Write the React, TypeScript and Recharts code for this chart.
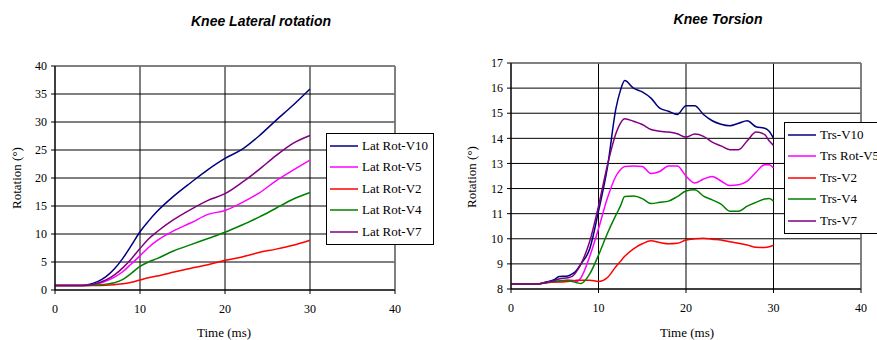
import React from "react";
import {
  LineChart, Line, XAxis, YAxis, CartesianGrid, ReferenceLine, Legend,
} from "recharts";

// ---- Knee Lateral rotation ----
const latTime = [0, 3, 4, 5, 6, 7, 8, 9, 10, 11, 12, 14, 16, 18, 20, 22, 24, 26, 28, 30];
const latV10 = [0.8, 0.8, 1.0, 1.5, 2.4, 3.8, 5.7, 8.0, 10.4, 12.3, 14.0, 16.8, 19.2, 21.5, 23.5, 25.1, 27.5, 30.3, 33.0, 35.9];
const latV5 = [0.8, 0.8, 0.85, 1.1, 1.6, 2.3, 3.3, 4.7, 6.1, 7.6, 8.8, 10.6, 12.0, 13.5, 14.2, 15.6, 17.3, 19.5, 21.4, 23.2];
const latV2 = [0.8, 0.8, 0.8, 0.8, 0.85, 0.95, 1.1, 1.4, 1.8, 2.2, 2.5, 3.2, 3.9, 4.5, 5.3, 5.9, 6.7, 7.3, 8.0, 8.9];
const latV4 = [0.8, 0.8, 0.8, 0.9, 1.05, 1.3, 1.9, 3.0, 4.2, 5.0, 5.6, 7.0, 8.1, 9.2, 10.3, 11.6, 13.0, 14.6, 16.2, 17.4];
const latV7 = [0.8, 0.8, 0.9, 1.2, 1.8, 2.7, 4.0, 5.6, 7.4, 9.1, 10.4, 12.6, 14.4, 16.0, 17.2, 19.2, 21.5, 24.0, 26.2, 27.6];

// ---- Knee Torsion ----
const trsTime = [0, 3, 4, 5, 5.5, 6.5, 7, 7.5, 8, 9, 10, 11, 12, 12.5, 13, 14, 15, 16, 17, 18, 19, 20, 21, 22, 23, 24, 25, 26, 27, 28, 29, 29.5, 30];
const trsV10 = [8.2, 8.2, 8.28, 8.38, 8.5, 8.52, 8.6, 8.75, 9.0, 9.6, 11.1, 12.8, 15.2, 15.9, 16.3, 16.0, 15.85, 15.6, 15.2, 15.08, 14.95, 15.3, 15.3, 14.95, 14.7, 14.56, 14.5, 14.6, 14.7, 14.46, 14.4, 14.28, 14.0];
const trsV5 = [8.2, 8.2, 8.25, 8.28, 8.3, 8.35, 8.35, 8.3, 8.45, 9.3, 10.4, 11.6, 12.5, 12.75, 12.88, 12.9, 12.88, 12.6, 12.68, 12.9, 12.9, 12.5, 12.22, 12.38, 12.48, 12.3, 12.12, 12.15, 12.3, 12.65, 12.95, 12.95, 12.82];
const trsV2 = [8.2, 8.2, 8.25, 8.28, 8.28, 8.3, 8.32, 8.35, 8.35, 8.35, 8.3, 8.45, 8.9, 9.1, 9.3, 9.6, 9.8, 9.92, 9.85, 9.8, 9.82, 9.95, 10.0, 10.02, 9.98, 9.95, 9.88, 9.82, 9.75, 9.66, 9.65, 9.68, 9.75];
const trsV4 = [8.2, 8.2, 8.25, 8.3, 8.33, 8.35, 8.3, 8.25, 8.22, 8.6, 9.35, 10.2, 10.95, 11.3, 11.68, 11.7, 11.6, 11.4, 11.45, 11.5, 11.68, 11.9, 11.95, 11.7, 11.55, 11.38, 11.1, 11.1, 11.3, 11.45, 11.58, 11.6, 11.5];
const trsV7 = [8.2, 8.2, 8.26, 8.34, 8.4, 8.45, 8.5, 8.7, 9.0, 9.9, 11.3, 12.9, 14.2, 14.6, 14.78, 14.68, 14.55, 14.35, 14.28, 14.25, 14.18, 14.05, 14.17, 14.08, 13.85, 13.7, 13.55, 13.55, 13.9, 14.25, 14.15, 13.9, 13.72];

const xTicks = [0, 10, 20, 30, 40];
const latTicks = [0, 5, 10, 15, 20, 25, 30, 35, 40];
const trsTicks = [8, 9, 10, 11, 12, 13, 14, 15, 16, 17];

const latSeries = [
  { key: "v10", name: "Lat Rot-V10", color: "#000080", values: latV10 },
  { key: "v5", name: "Lat Rot-V5", color: "#FF00FF", values: latV5 },
  { key: "v2", name: "Lat Rot-V2", color: "#FF0000", values: latV2 },
  { key: "v4", name: "Lat Rot-V4", color: "#008000", values: latV4 },
  { key: "v7", name: "Lat Rot-V7", color: "#800080", values: latV7 },
];
const trsSeries = [
  { key: "v10", name: "Trs-V10", color: "#000080", values: trsV10 },
  { key: "v5", name: "Trs Rot-V5", color: "#FF00FF", values: trsV5 },
  { key: "v2", name: "Trs-V2", color: "#FF0000", values: trsV2 },
  { key: "v4", name: "Trs-V4", color: "#008000", values: trsV4 },
  { key: "v7", name: "Trs-V7", color: "#800080", values: trsV7 },
];

const serif = "'Liberation Serif', 'Times New Roman', serif";
const tickStyle = { fill: "#000", fontSize: 12, fontFamily: serif };

function buildRows(time: number[], series: typeof latSeries) {
  return time.map((t, i) => {
    const row: any = { t };
    series.forEach((s) => (row[s.key] = s.values[i]));
    return row;
  });
}

function BoxLegend({ series }: { series: typeof latSeries }) {
  return (
    <div style={{
      border: "1px solid #000", background: "#fff", padding: "1px 0 1px 3px",
      fontFamily: serif, fontSize: 13, color: "#000", boxSizing: "border-box",
    }}>
      {series.map((s) => (
        <div key={s.key} style={{ display: "flex", alignItems: "center", height: 21.5, whiteSpace: "nowrap" }}>
          <svg width={28} height={4} style={{ marginRight: 4 }}>
            <line x1={0} y1={2} x2={28} y2={2} stroke={s.color} strokeWidth={1.5} />
          </svg>
          <span>{s.name}</span>
        </div>
      ))}
    </div>
  );
}

interface PanelProps {
  left: number; width: number;
  margin: { top: number; right: number; bottom: number; left: number };
  time: number[]; series: typeof latSeries;
  yDomain: [number, number]; yTicks: number[];
  legendPos: { left: number; top: number; width: number };
}

function Panel({ left, width, margin, time, series, yDomain, yTicks, legendPos }: PanelProps) {
  const rows = buildRows(time, series);
  return (
    <div style={{ position: "absolute", left, top: 0 }}>
      <LineChart width={width} height={340} data={rows} margin={margin}>
        <CartesianGrid stroke="#000" strokeWidth={1} horizontalValues={yTicks} verticalValues={xTicks} />
        <ReferenceLine y={yDomain[1]} stroke="#808080" strokeWidth={1.5} />
        <ReferenceLine x={40} stroke="#808080" strokeWidth={1.5} />
        <XAxis
          dataKey="t" type="number" domain={[0, 40]} ticks={xTicks} height={30} interval={0}
          tick={tickStyle} tickSize={4} tickMargin={10}
          axisLine={{ stroke: "#000" }} tickLine={{ stroke: "#000" }}
        />
        <YAxis
          type="number" domain={yDomain} ticks={yTicks} width={40} interval={0}
          tick={tickStyle} tickSize={4} tickMargin={4}
          axisLine={{ stroke: "#000" }} tickLine={{ stroke: "#000" }}
        />
        {series.map((s) => (
          <Line
            key={s.key} dataKey={s.key} name={s.name} type="monotone"
            stroke={s.color} strokeWidth={1.5} dot={false} isAnimationActive={false}
          />
        ))}
        <Legend
          layout="vertical" align="center" verticalAlign="middle"
          wrapperStyle={{ left: legendPos.left, top: legendPos.top, width: legendPos.width }}
          content={() => <BoxLegend series={series} />}
        />
      </LineChart>
    </div>
  );
}

const label: React.CSSProperties = {
  position: "absolute", fontFamily: serif, fontSize: 13, color: "#000", whiteSpace: "nowrap",
};
const title: React.CSSProperties = {
  position: "absolute", fontFamily: "'Liberation Sans', Arial, sans-serif", fontSize: 14,
  fontWeight: "bold", fontStyle: "italic", color: "#000", whiteSpace: "nowrap",
};

export default function App() {
  return (
    <div style={{
      position: "absolute", left: 0, top: 0, width: 877, height: 340,
      overflow: "hidden", background: "#fff",
    }}>
      <Panel
        left={0} width={440}
        margin={{ top: 66, right: 45, bottom: 20, left: 15 }}
        time={latTime} series={latSeries}
        yDomain={[0, 40]} yTicks={latTicks}
        legendPos={{ left: 326, top: 133, width: 108 }}
      />
      <Panel
        left={440} width={437}
        margin={{ top: 63, right: 16, bottom: 21, left: 31 }}
        time={trsTime} series={trsSeries}
        yDomain={[8, 17]} yTicks={trsTicks}
        legendPos={{ left: 344, top: 122, width: 112 }}
      />

      <div style={{ ...title, left: 261, top: 21, transform: "translate(-50%, -50%)" }}>Knee Lateral rotation</div>
      <div style={{ ...title, left: 718, top: 19, transform: "translate(-50%, -50%)" }}>Knee Torsion</div>

      <div style={{ ...label, left: 17, top: 178, transform: "translate(-50%, -50%) rotate(-90deg)" }}>Rotation (°)</div>
      <div style={{ ...label, left: 472, top: 177, transform: "translate(-50%, -50%) rotate(-90deg)" }}>Rotation (°)</div>

      <div style={{ ...label, left: 224, top: 333, transform: "translate(-50%, -50%)" }}>Time (ms)</div>
      <div style={{ ...label, left: 687, top: 333, transform: "translate(-50%, -50%)" }}>Time (ms)</div>
    </div>
  );
}
